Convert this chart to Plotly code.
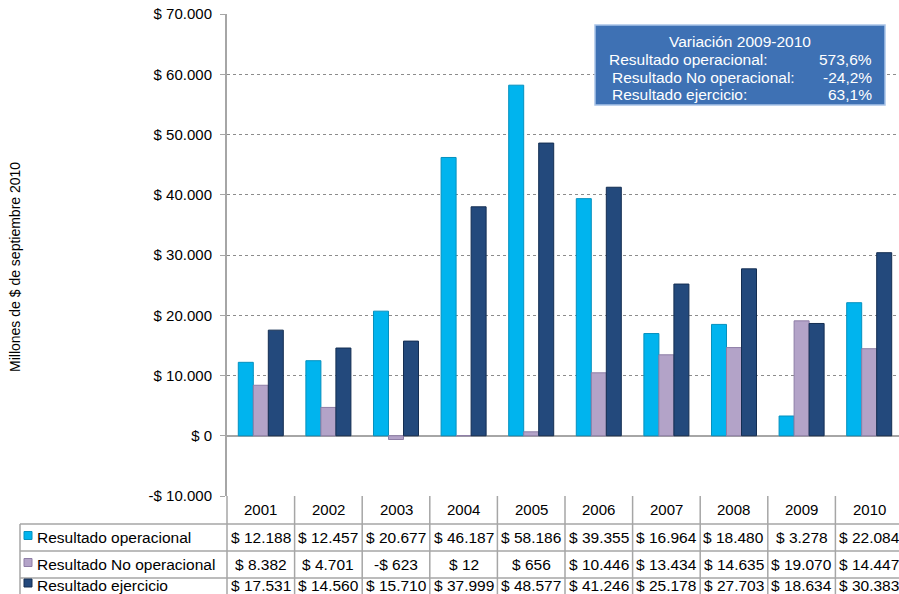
import plotly.graph_objects as go

years = ["2001", "2002", "2003", "2004", "2005", "2006", "2007", "2008", "2009", "2010"]
operacional = [12188, 12457, 20677, 46187, 58186, 39355, 16964, 18480, 3278, 22084]
no_operacional = [8382, 4701, -623, 12, 656, 10446, 13434, 14635, 19070, 14447]
ejercicio = [17531, 14560, 15710, 37999, 48577, 41246, 25178, 27703, 18634, 30383]

series_names = ["Resultado operacional", "Resultado No operacional", "Resultado ejercicio"]
series_values = [operacional, no_operacional, ejercicio]
series_colors = ["#00B4EE", "#B3A3C8", "#23497C"]
series_lines = ["#0590BE", "#8E7EA6", "#142E52"]

y_ticks = list(range(-10000, 70001, 10000))

box_title = "Variación 2009-2010"
box_labels = ["Resultado operacional:", "Resultado No operacional:", "Resultado ejercicio:"]
box_values = ["573,6%", "-24,2%", "63,1%"]


def peso(v):
    s = f"{abs(v):,}".replace(",", ".")
    return ("-$ " if v < 0 else "$ ") + s


FONT = "Liberation Sans, Arial, sans-serif"
W, H = 899, 594
L, R, T, B = 227, 0, 14, 98
PW, PH = W - L - R, H - T - B
N = len(years)
# the chart runs a little past the right edge of the picture, as in the original slide
X0, X1 = -0.5, -0.5 + PW / 67.6


def px_x(p):
    return (p - L) / PW


def px_y(p):
    return (H - B - p) / PH


def col_x(i):
    # category position i as a fraction of the plot width
    return (i - X0) / (X1 - X0)


fig = go.Figure()
for name, vals, col, lc in zip(series_names, series_values, series_colors, series_lines):
    fig.add_trace(go.Bar(x=years, y=vals, name=name, marker=dict(color=col, line=dict(color=lc, width=1))))

fig.update_layout(
    width=W, height=H,
    margin=dict(l=L, r=R, t=T, b=B, autoexpand=False),
    paper_bgcolor="white", plot_bgcolor="white",
    barmode="group", bargap=0.334, bargroupgap=0,
    showlegend=False,
    font=dict(family=FONT, size=14, color="black"),
)
fig.update_xaxes(type="category", range=[X0, X1], showticklabels=False, showgrid=False,
                 zeroline=False, showline=False, automargin=False)
fig.update_yaxes(
    range=[-10000, 70000], tickvals=y_ticks, ticktext=[peso(v) for v in y_ticks],
    tickfont=dict(size=15), ticks="outside", ticklen=5, tickcolor="#A6A6A6", automargin=False,
    ticklabelstandoff=5,
    showline=True, linecolor="#A6A6A6", linewidth=2,
    showgrid=True, gridcolor="#8C8C8C", griddash="dot", gridwidth=1,
    zeroline=True, zerolinecolor="#A6A6A6", zerolinewidth=2,
)

fig.add_annotation(x=px_x(15), xref="paper", y=px_y(267), yref="paper", text="Millones de $ de septiembre 2010",
                   textangle=-90, showarrow=False, xanchor="center", yanchor="middle", font=dict(size=14))

# data table below the chart
row_edges = [496, 524, 551, 578, 610]
grid = "#A6A6A6"
for i in range(N + 1):
    fig.add_shape(type="line", xref="paper", yref="paper", x0=col_x(i - 0.5), x1=col_x(i - 0.5),
                  y0=px_y(496), y1=px_y(610), line=dict(color=grid, width=1.5))
fig.add_shape(type="line", xref="paper", yref="paper", x0=px_x(20), x1=px_x(20),
              y0=px_y(524), y1=px_y(610), line=dict(color=grid, width=1.5))
for p in row_edges[1:4]:
    fig.add_shape(type="line", xref="paper", yref="paper", x0=px_x(20), x1=1,
                  y0=px_y(p), y1=px_y(p), line=dict(color=grid, width=1.5))

for i, yr in enumerate(years):
    fig.add_annotation(x=col_x(i), xref="paper", y=px_y(510), yref="paper", text=yr,
                       xanchor="center", yanchor="middle", showarrow=False, font=dict(size=15))

row_centres = [537.5, 564.5, 585]
for yc, name, vals, col, lc in zip(row_centres, series_names, series_values, series_colors, series_lines):
    fig.add_shape(type="rect", xref="paper", yref="paper", x0=px_x(24), x1=px_x(32),
                  y0=px_y(yc + 2), y1=px_y(yc - 6), fillcolor=col, line=dict(color=lc, width=1))
    fig.add_annotation(x=px_x(35), xref="paper", y=px_y(yc), yref="paper", text=name,
                       xanchor="left", yanchor="middle", showarrow=False, font=dict(size=15.5))
    for i, v in enumerate(vals):
        fig.add_annotation(x=col_x(i), xref="paper", y=px_y(yc), yref="paper", text=peso(v),
                           xanchor="center", yanchor="middle", showarrow=False, font=dict(size=15.5))

# variation box
fig.add_shape(type="rect", xref="paper", yref="paper", x0=px_x(595), x1=px_x(885),
              y0=px_y(105), y1=px_y(25), fillcolor="#3E71B4", line=dict(color="#A9C4E8", width=1.5))
fig.add_annotation(x=px_x(740), xref="paper", y=px_y(41), yref="paper", text=box_title,
                   xanchor="center", yanchor="middle", showarrow=False, font=dict(size=15.5, color="white"))
for i, (lab, val) in enumerate(zip(box_labels, box_values)):
    yy = 59 + i * 18
    fig.add_annotation(x=px_x(607 if i == 0 else 610), xref="paper", y=px_y(yy), yref="paper",
                       text=lab, xanchor="left", yanchor="middle", showarrow=False,
                       font=dict(size=15.5, color="white"))
    fig.add_annotation(x=px_x(874), xref="paper", y=px_y(yy), yref="paper",
                       text=val, xanchor="right", yanchor="middle", showarrow=False,
                       font=dict(size=15.5, color="white"))

fig.write_html("out.html", config={"displayModeBar": False},
               post_script="document.body.style.margin='0';document.body.style.overflow='hidden';")
